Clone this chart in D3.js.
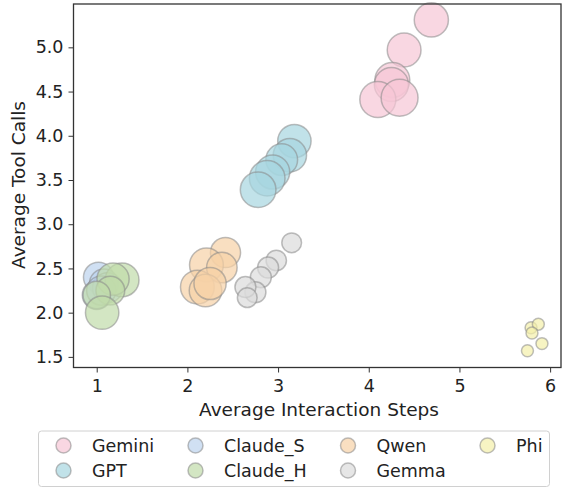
<!DOCTYPE html>
<html>
<head>
<meta charset="utf-8">
<script src="https://cdn.jsdelivr.net/npm/d3@7/dist/d3.min.js"></script>
<style>
  body { margin: 0; background: #fff; }
  text { font-family: "DejaVu Sans", sans-serif; fill: #222; }
</style>
</head>
<body>
<div id="chart"></div>
<script>
// Model families shown in the legend (in legend order)
const models = ["Gemini", "GPT", "Claude_S", "Claude_H", "Qwen", "Gemma", "Phi"];
const fillColors = ["#f7c6d6", "#a6d6df", "#bcd3ee", "#c0dcaa", "#f6d2a6", "#dcdcdc", "#f4efaa"];

// One row per run: model, average steps, average tool calls, bubble size
const pointModel = [
  "Gemini", "Gemini", "Gemini", "Gemini", "Gemini", "Gemini",
  "GPT", "GPT", "GPT", "GPT", "GPT", "GPT",
  "Claude_S", "Claude_S", "Claude_S", "Claude_S", "Claude_S",
  "Claude_H", "Claude_H", "Claude_H", "Claude_H", "Claude_H",
  "Qwen", "Qwen", "Qwen", "Qwen", "Qwen", "Qwen",
  "Gemma", "Gemma", "Gemma", "Gemma", "Gemma", "Gemma", "Gemma",
  "Phi", "Phi", "Phi", "Phi", "Phi"
];
const steps = [
  4.69, 4.39, 4.26, 4.25, 4.10, 4.34,
  3.18, 3.13, 3.04, 2.94, 2.88, 2.78,
  1.02, 1.08, 1.00, 1.12, 1.05,
  1.28, 1.18, 1.15, 1.00, 1.06,
  2.42, 2.21, 2.38, 2.11, 2.20, 2.25,
  3.15, 2.98, 2.89, 2.81, 2.75, 2.64, 2.66,
  5.79, 5.87, 5.80, 5.91, 5.75
];
const toolCalls = [
  5.31, 4.97, 4.63, 4.58, 4.41, 4.43,
  3.94, 3.78, 3.73, 3.59, 3.52, 3.39,
  2.40, 2.33, 2.20, 2.28, 2.25,
  2.37, 2.38, 2.25, 2.20, 2.00,
  2.68, 2.54, 2.51, 2.29, 2.25, 2.33,
  2.79, 2.59, 2.51, 2.40, 2.23, 2.29, 2.17,
  1.83, 1.87, 1.77, 1.65, 1.57
];
const sizes = [
  900, 880, 940, 900, 1000, 1050,
  860, 860, 780, 900, 980, 980,
  700, 650, 640, 700, 660,
  880, 800, 640, 580, 860,
  700, 880, 720, 880, 820, 800,
  300, 320, 340, 340, 340, 340, 300,
  110, 110, 110, 110, 110
];

const xTicks = [1, 2, 3, 4, 5, 6];
const yTicks = [1.5, 2.0, 2.5, 3.0, 3.5, 4.0, 4.5, 5.0];

const width = 562, height = 488;
const plot = { left: 73.5, right: 561, top: 4, bottom: 367.5 };

const svg = d3.select("#chart").append("svg")
  .attr("width", width)
  .attr("height", height);

const x = d3.scaleLinear().domain([0.744, 6.12]).range([plot.left, plot.right]);
const y = d3.scaleLinear().domain([1.38, 5.49]).range([plot.bottom, plot.top]);
const r = d3.scaleSqrt().domain([0, 1000]).range([0, 18]);
const color = d3.scaleOrdinal().domain(models).range(fillColors);

// Bubbles
const points = steps.map((s, i) => ({ model: pointModel[i], x: s, y: toolCalls[i], size: sizes[i] }));

svg.append("g")
  .selectAll("circle")
  .data(points)
  .enter()
  .append("circle")
  .attr("cx", d => x(d.x))
  .attr("cy", d => y(d.y))
  .attr("r", d => r(d.size))
  .attr("fill", d => color(d.model))
  .attr("fill-opacity", 0.7)
  .attr("stroke", "#888")
  .attr("stroke-opacity", 0.55)
  .attr("stroke-width", 1.5);

// Axes
const xAxis = svg.append("g")
  .attr("transform", `translate(0,${plot.bottom})`)
  .call(d3.axisBottom(x).tickValues(xTicks).tickFormat(d3.format("d")).tickSize(5).tickPadding(5));

const yAxis = svg.append("g")
  .attr("transform", `translate(${plot.left},0)`)
  .call(d3.axisLeft(y).tickValues(yTicks).tickFormat(d3.format(".1f")).tickSize(5).tickPadding(5));

[xAxis, yAxis].forEach(g => {
  g.select(".domain").remove();
  g.selectAll("line").attr("stroke", "#333").attr("stroke-width", 1);
  g.selectAll("text")
    .style("font-family", "DejaVu Sans, sans-serif")
    .style("font-size", "17.5px")
    .attr("fill", "#222");
});
xAxis.selectAll("text").attr("dy", "0.8em");

// Frame
svg.append("rect")
  .attr("x", plot.left)
  .attr("y", plot.top)
  .attr("width", plot.right - plot.left)
  .attr("height", plot.bottom - plot.top)
  .attr("fill", "none")
  .attr("stroke", "#333")
  .attr("stroke-width", 1.3);

// Axis labels
svg.append("text")
  .attr("x", 319)
  .attr("y", 416)
  .attr("text-anchor", "middle")
  .style("font-size", "18.5px")
  .text("Average Interaction Steps");

svg.append("text")
  .attr("transform", `translate(25,185) rotate(-90)`)
  .attr("text-anchor", "middle")
  .style("font-size", "18.5px")
  .text("Average Tool Calls");

// Legend: 4 columns, 2 rows (column-major order like matplotlib)
const legend = svg.append("g");
legend.append("rect")
  .attr("x", 38.5)
  .attr("y", 431)
  .attr("width", 511)
  .attr("height", 55.5)
  .attr("rx", 3)
  .attr("fill", "#fff")
  .attr("stroke", "#d0d0d0")
  .attr("stroke-width", 1);

const colX = [63.5, 195.5, 348, 487.5];
const rowY = [445.5, 470.5];

const items = legend.selectAll("g.item")
  .data(models)
  .enter()
  .append("g")
  .attr("class", "item")
  .attr("transform", (d, i) => `translate(${colX[Math.floor(i / 2)]},${rowY[i % 2]})`);

items.append("circle")
  .attr("r", 7.5)
  .attr("fill", d => color(d))
  .attr("fill-opacity", 0.7)
  .attr("stroke", "#888")
  .attr("stroke-opacity", 0.55)
  .attr("stroke-width", 1.5);

items.append("text")
  .attr("x", 28.5)
  .attr("dy", "0.35em")
  .style("font-size", "17.5px")
  .text(d => d);
</script>
</body>
</html>
